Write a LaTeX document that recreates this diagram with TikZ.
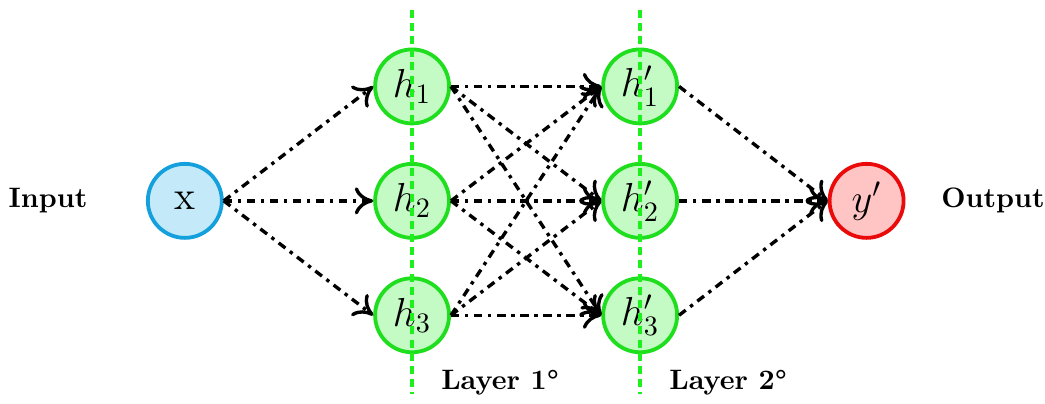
\documentclass[tikz,border=0pt]{standalone}
\usepackage{tikz}
\usetikzlibrary{arrows.meta}
\definecolor{inblue}{RGB}{20,160,220}
\definecolor{inbluefill}{RGB}{196,234,250}
\definecolor{hidgreen}{RGB}{30,222,30}
\definecolor{hidgreenfill}{RGB}{196,250,196}
\definecolor{outred}{RGB}{235,10,10}
\definecolor{outredfill}{RGB}{255,196,196}
\definecolor{layergreen}{RGB}{30,240,30}

\begin{document}
\begin{tikzpicture}[
  neuron/.style={circle,line width=1.35pt,minimum size=0.925cm,inner sep=0pt,font=\Large},
  innode/.style={neuron,draw=inblue,fill=inbluefill},
  hidnode/.style={neuron,draw=hidgreen,fill=hidgreenfill},
  outnode/.style={neuron,draw=outred,fill=outredfill},
  link/.style={line width=1.2pt,dash dot,-{To[length=2.3mm,width=3.4mm]}},
  layerline/.style={draw=layergreen,line width=1.2pt,dash pattern=on 1mm off 0.65mm}]
  \useasboundingbox (0,-2.53) rectangle (13.06,2.51);
  % nodes
  \node[innode] (x) at (2.31,0) {x};
  \node[hidnode] (h1) at (5.15,1.43) {$h_1$};
  \node[hidnode] (h2) at (5.15,0) {$h_2$};
  \node[hidnode] (h3) at (5.15,-1.43) {$h_3$};
  \node[hidnode] (g1) at (8.0,1.43) {$h'_1$};
  \node[hidnode] (g2) at (8.0,0) {$h'_2$};
  \node[hidnode] (g3) at (8.0,-1.43) {$h'_3$};
  \node[outnode] (y) at (10.83,0) {$y'$};
  \node[font=\bfseries] (input) at (0.6,0) {Input};
  \node[font=\bfseries] (output) at (12.41,0) {Output};
  % connections
  \foreach \i in {1,2,3} {
    \draw[link] (x.east) -- (h\i.west);
    \draw[link] (g\i.east) -- (y.west);
    \foreach \j in {1,2,3}
      \draw[link] (h\i.east) -- (g\j.west);
  }
  % layers
  \coordinate (l1top) at (5.15,2.39);
  \coordinate (l1bot) at (5.15,-2.42);
  \coordinate (l2top) at (8.0,2.39);
  \coordinate (l2bot) at (8.0,-2.42);
  \draw[layerline] (l1top) -- (l1bot);
  \draw[layerline] (l2top) -- (l2bot);
  \node[font=\bfseries] (lay1) at (6.25,-2.27) {Layer 1\textdegree};
  \node[font=\bfseries] (lay2) at (9.1,-2.27) {Layer 2\textdegree};
\end{tikzpicture}
\end{document}
